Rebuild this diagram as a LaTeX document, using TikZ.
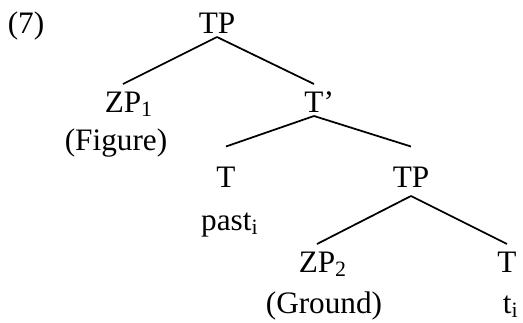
\documentclass[tikz,border=0pt,12pt]{standalone}
\usepackage{fontspec}
\setmainfont{Liberation Serif}
\usetikzlibrary{positioning}

\tikzset{
  cat/.style={inner sep=0pt,text height=11pt,text depth=1.4pt,anchor=base},
  gloss/.style={inner sep=0pt,anchor=base},
  branch/.style={line width=0.7pt}
}

\begin{document}
\begin{tikzpicture}[x=0.4pt,y=-0.4pt,font=\fontsize{12.5}{15}\selectfont]
  \useasboundingbox (0,0) rectangle (523,322);
  % example number
  \node[gloss] (exnum) at (26,33) {(7)};
  % categories
  \node[cat] (tp)    at (217,33)  {TP};
  \node[cat] (zp1)   at (123,112) {ZP\rlap{\textsubscript{1}}};
  \node[cat] (tbar)  at (314,112) {T\rlap{'}};
  \node[cat] (t)     at (226,187) {T};
  \node[cat] (tp2)   at (411,187) {TP};
  \node[cat] (zp2)   at (317,272) {ZP\rlap{\textsubscript{2}}};
  \node[cat] (trace) at (507,272) {T};
  % material under the leaves
  \node[gloss] (fig)  at (116,150) {(Figure)};
  \node[gloss] (past) at (230,230) {past\textsubscript{i}};
  \node[gloss] (gnd)  at (324,313) {(Ground)};
  \node[gloss] (ti)   at (511,313) {t\textsubscript{i}};
  % branches
  \draw[branch] (tp.south) -- (zp1.north);
  \draw[branch] (tp.south) -- (tbar.north);
  \draw[branch] (tbar.south) -- ([yshift=5pt]t.north);
  \draw[branch] (tbar.south) -- ([yshift=5pt]tp2.north);
  \draw[branch] ([yshift=-2pt]tp2.south) -- (zp2.north);
  \draw[branch] ([yshift=-2pt]tp2.south) -- (trace.north);
\end{tikzpicture}
\end{document}
